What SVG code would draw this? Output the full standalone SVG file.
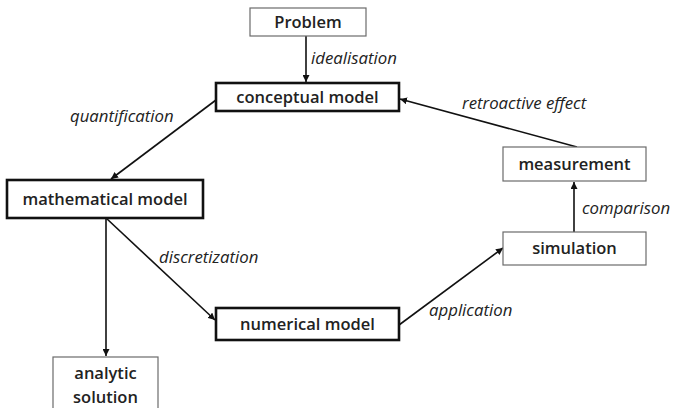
<svg xmlns="http://www.w3.org/2000/svg" width="673" height="408" viewBox="0 0 673 408">
  <style>
    .thin { fill: #fff; stroke: #6b6b6b; stroke-width: 1.2; }
    .thick { fill: #fff; stroke: #111; stroke-width: 2.6; }
    .node { font-family: "Open Sans", "Noto Sans", sans-serif; font-size: 16.5px; font-weight: 600; fill: #222; text-anchor: middle; }
    .lbl { font-family: "Open Sans", "Noto Sans", sans-serif; font-size: 16.8px; font-style: italic; fill: #222; }
    .edge { fill: none; stroke: #111; stroke-width: 1.6; marker-end: url(#arrow); }
  </style>
  <defs>
    <marker id="arrow" viewBox="0 0 10 10" refX="10" refY="5" markerWidth="7" markerHeight="7" markerUnits="userSpaceOnUse" orient="auto">
      <path d="M0,0 L10,5 L0,10 z" fill="#111"/>
    </marker>
  </defs>
  <rect width="673" height="408" fill="#fff"/>

  <g id="connectors">
    <line class="edge" x1="306" y1="36" x2="306" y2="82"/>
    <line class="edge" x1="216" y1="100" x2="111" y2="179"/>
    <line class="edge" x1="106" y1="218" x2="106" y2="356"/>
    <line class="edge" x1="106" y1="218" x2="215" y2="320"/>
    <line class="edge" x1="399" y1="325" x2="503" y2="248"/>
    <line class="edge" x1="574" y1="232" x2="574" y2="182"/>
    <line class="edge" x1="577" y1="147" x2="400" y2="99"/>
  </g>

  <g id="labels">
    <text class="lbl" x="311" y="64">idealisation</text>
    <text class="lbl" x="70" y="122">quantification</text>
    <text class="lbl" x="159" y="263">discretization</text>
    <text class="lbl" x="429" y="316">application</text>
    <text class="lbl" x="582" y="214">comparison</text>
    <text class="lbl" x="462" y="109">retroactive effect</text>
  </g>

  <g id="problem">
    <rect class="thin" x="250" y="8" width="116" height="28"/>
    <text class="node" x="308" y="28">Problem</text>
  </g>
  <g id="conceptual-model">
    <rect class="thick" x="216" y="83" width="183" height="28"/>
    <text class="node" x="307.5" y="103">conceptual model</text>
  </g>
  <g id="mathematical-model">
    <rect class="thick" x="7" y="180" width="196" height="38"/>
    <text class="node" x="105" y="205">mathematical model</text>
  </g>
  <g id="analytic-solution">
    <rect class="thin" x="53" y="357" width="105" height="60"/>
    <text class="node" x="105.5" y="379">analytic</text>
    <text class="node" x="105.5" y="403">solution</text>
  </g>
  <g id="numerical-model">
    <rect class="thick" x="216" y="308" width="183" height="32"/>
    <text class="node" x="307.5" y="330">numerical model</text>
  </g>
  <g id="simulation">
    <rect class="thin" x="503" y="232" width="143" height="33"/>
    <text class="node" x="574.5" y="254">simulation</text>
  </g>
  <g id="measurement">
    <rect class="thin" x="503" y="147" width="143" height="34"/>
    <text class="node" x="574.5" y="170">measurement</text>
  </g>
</svg>
